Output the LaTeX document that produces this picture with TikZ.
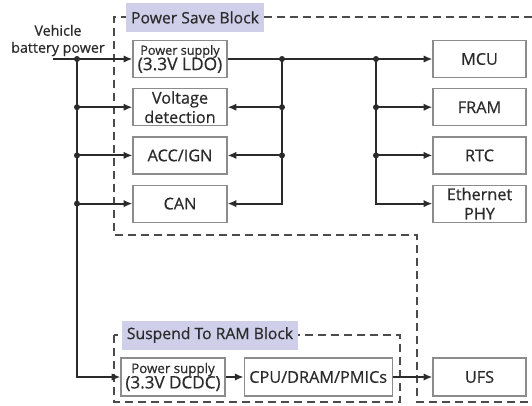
\documentclass[tikz,border=0pt]{standalone}
\usepackage{fontspec}
\setmainfont{Open Sans}[FakeBold=0.6]
\usetikzlibrary{positioning,arrows.meta}
\definecolor{ink}{HTML}{2B2B2B}
\definecolor{frame}{HTML}{8C8C8C}
\definecolor{tagfill}{HTML}{CFCFEA}

\begin{document}
\begin{tikzpicture}[x=0.75pt,y=-0.75pt,node distance=7.5pt and 13.5pt,
  every node/.style={align=center,text=ink,font=\fontsize{12.2}{14.5}\selectfont},
  >={Latex[length=6.5pt,width=5.5pt]},
  box/.style={draw=frame,line width=0.9pt,minimum width=70.5pt,minimum height=27.75pt,inner sep=1pt},
  wire/.style={draw=ink,line width=1.5pt},
  zone/.style={draw=ink!85,line width=1.1pt,dash pattern=on 6pt off 3.75pt},
  tag/.style={fill=tagfill,minimum height=21.75pt,inner xsep=4pt,font=\fontsize{11.8}{13}\selectfont}]
\useasboundingbox (0,0) rectangle (532,405);
% dashed block outlines
\draw[zone] (532,17) -- (114,17) -- (114,235) -- (417,235) -- (417,402) -- (532,402);
\draw[zone] (114,335) rectangle (400,402);
\node[tag] (psb) at (195,17.5) {Power Save Block};
\node[tag] (strb) at (210,335) {Suspend To RAM Block};
% left column
\node[box] (ldo) at (180,59) {{\fontsize{9.5}{11}\selectfont Power supply}\\[-3pt]{\fontsize{13}{14.5}\selectfont (3.3V LDO)}};
\node[box,below=of ldo] (volt) {Voltage\\detection};
\node[box,below=of volt] (acc) {ACC/IGN};
\node[box,below=of acc] (can) {CAN};
% right column
\node[box,minimum width=69.75pt] (mcu) at (479.5,59) {MCU};
\node[box,minimum width=69.75pt,below=of mcu] (fram) {FRAM};
\node[box,minimum width=69.75pt,below=of fram] (rtc) {RTC};
\node[box,minimum width=69.75pt,below=of rtc] (eth) {Ethernet\\PHY};
% suspend row
\node[box,minimum width=78pt,minimum height=28.5pt] (dcdc) at (173,377) {{\fontsize{10}{11}\selectfont Power supply}\\[-3pt]{\fontsize{12.8}{14.5}\selectfont (3.3V DCDC)}};
\node[box,minimum width=111pt,minimum height=28.5pt,right=of dcdc] (cpu) {CPU/DRAM/PMICs};
\node[box,minimum width=69.75pt,minimum height=28.5pt] (ufs) at (479.5,377) {UFS};
\node[font=\fontsize{10.7}{12.75}\selectfont] (vbp) at (58,40.5) {Vehicle\\battery power};
% wires
\coordinate (vin) at (53,59);
\coordinate (bt) at (77,59);
\coordinate (j1) at (282,59);
\coordinate (j2) at (376,59);
\draw[wire,->] (vin) -- (ldo);
\draw[wire,->] (bt) |- (dcdc);
\foreach \b in {volt,acc,can} \draw[wire,->] (bt |- \b) -- (\b);
\draw[wire,->] (ldo) -- (mcu);
\draw[wire,->] (j1) |- (can);
\foreach \b in {volt,acc} \draw[wire,->] (j1 |- \b) -- (\b);
\draw[wire,->] (j2) |- (eth);
\foreach \b in {fram,rtc} \draw[wire,->] (j2 |- \b) -- (\b);
\draw[wire,->] (dcdc) -- (cpu);
\draw[wire,->] (cpu) -- (ufs);
% junction dots
\foreach \b in {ldo,volt,acc,can} \fill[ink] (bt |- \b) circle (2.25pt);
\foreach \b in {ldo,volt,acc} \fill[ink] (j1 |- \b) circle (2.25pt);
\foreach \b in {mcu,fram,rtc} \fill[ink] (j2 |- \b) circle (2.25pt);
\end{tikzpicture}
\end{document}
